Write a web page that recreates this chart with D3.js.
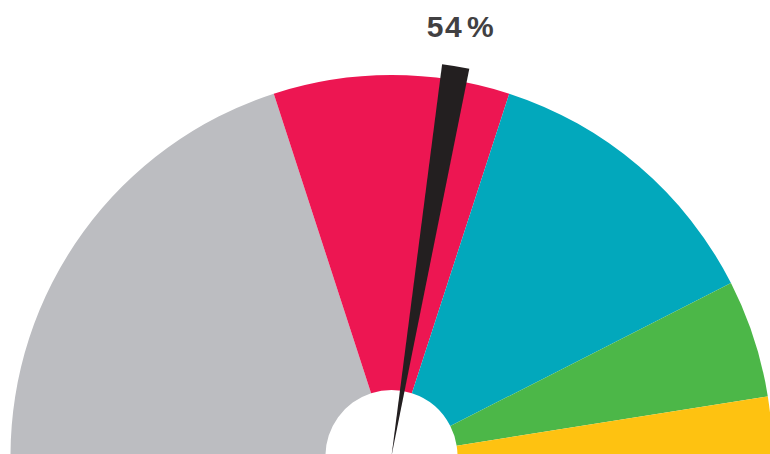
<!DOCTYPE html>
<html>
<head>
<meta charset="utf-8">
<script src="https://cdn.jsdelivr.net/npm/d3@7"></script>
<style>
  body { margin: 0; background: #fff; }
  svg { display: block; }
</style>
</head>
<body>
<div id="chart"></div>
<script>
// gauge segments, left to right (share of the half circle, %)
var categories = ["grey", "red", "teal", "green", "yellow"];
var shares = [40, 20, 25, 10, 5];
var colors = ["#bcbdc1", "#ed1652", "#02a8bc", "#4cb748", "#fec211"];

var needleValue = [55.2];
var labelNumber = ["54"];

var width = 770;
var height = 454;
var cx = 391.5, cy = 456;
var innerR = 66, outerR = 381, needleR = 395;

var svg = d3.select("#chart")
    .append("svg")
    .attr("width", width)
    .attr("height", height);

var g = svg.append("g")
    .attr("transform", "translate(" + cx + "," + cy + ")");

// value (0-100) -> angle across the top half
var angle = d3.scaleLinear()
    .domain([0, 100])
    .range([-Math.PI / 2, Math.PI / 2]);

var pie = d3.pie()
    .sort(null)
    .startAngle(angle(0))
    .endAngle(angle(100));

var arc = d3.arc()
    .innerRadius(innerR)
    .outerRadius(outerR);

var data = categories.map(function(c, i) {
    return { name: c, value: shares[i], color: colors[i] };
});

g.selectAll(".seg")
    .data(pie.value(function(d) { return d.value; })(data))
    .enter().append("path")
    .attr("class", "seg")
    .attr("d", arc)
    .attr("fill", function(d) { return d.data.color; });

// needle: thin wedge from the centre
var halfW = 2 * Math.PI / 180;
var needleArc = d3.arc()
    .innerRadius(0)
    .outerRadius(needleR);

g.selectAll(".needle")
    .data(needleValue)
    .enter().append("path")
    .attr("class", "needle")
    .attr("d", function(d) {
        return needleArc({ startAngle: angle(d) - halfW, endAngle: angle(d) + halfW });
    })
    .attr("fill", "#231f20");

var label = svg.selectAll(".label")
    .data(labelNumber)
    .enter().append("text")
    .attr("class", "label")
    .attr("x", 461)
    .attr("y", 37)
    .attr("text-anchor", "middle")
    .attr("fill", "#414042")
    .style("font-family", "'Liberation Sans', Arial, sans-serif")
    .style("font-weight", "bold")
    .style("font-size", "30px")
    .style("letter-spacing", "1.5px");

label.append("tspan").text(function(d) { return d; });
label.append("tspan").attr("dx", 4).text("%");
</script>
</body>
</html>
